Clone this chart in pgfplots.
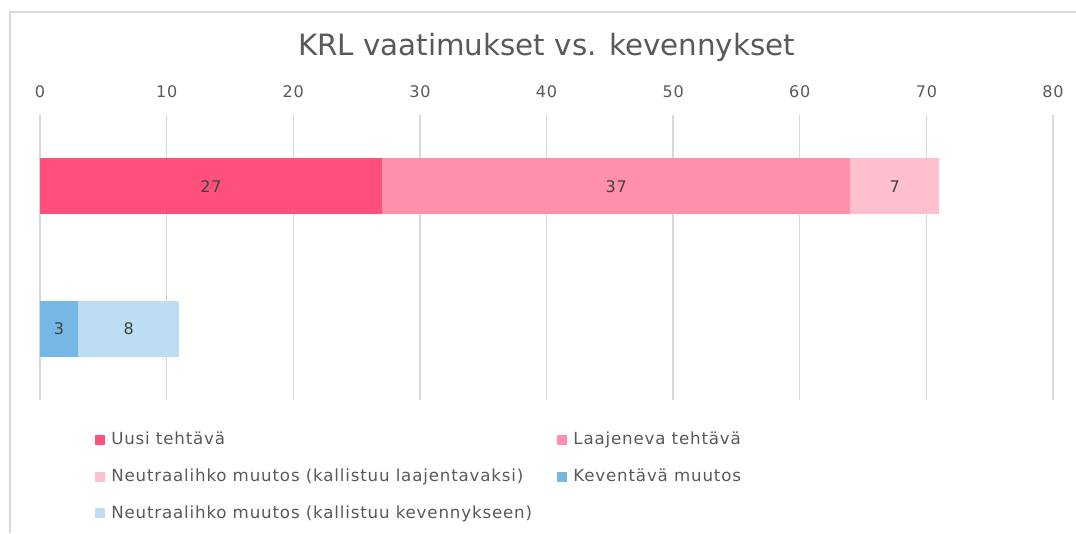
\documentclass[border=0pt]{standalone}
\usepackage{pgfplots}
\pgfplotsset{compat=1.18}
\usepackage{fontspec}
\setmainfont{DejaVu Sans}[LetterSpace=5]
\newfontfamily\titlefont{DejaVu Sans}
\definecolor{c1}{HTML}{FF4F7B}
\definecolor{c2}{HTML}{FF8FAB}
\definecolor{c3}{HTML}{FFBFCF}
\definecolor{c4}{HTML}{75B8E6}
\definecolor{c5}{HTML}{BDDDF3}
\definecolor{txt}{HTML}{595959}
\definecolor{lbl}{HTML}{404040}
\definecolor{gridc}{HTML}{D9D9D9}
\begin{document}
\begin{tikzpicture}
\path[use as bounding box] (-30pt,-99.75pt) rectangle (777pt,300pt);
\draw[gridc, line width=1pt] (-22.5pt,-99.75pt) -- (-22.5pt,291pt) -- (777pt,291pt);
\begin{axis}[
  at={(0,0)}, anchor=south west,
  scale only axis, width=759.75pt, height=213.75pt,
  xbar stacked, bar width=42pt,
  xmin=0, xmax=80, ymin=-0.5, ymax=1.5,
  xtick={0,10,...,80}, ytick=\empty,
  xticklabel pos=upper,
  axis line style={draw=none},
  major tick length=0pt,
  xmajorgrids, grid style={gridc, line width=1.1pt},
  ticklabel style={font=\fontsize{12}{14}\selectfont, text=txt},
  xticklabel style={yshift=9.5pt},
  /pgf/number format/assume math mode=true,
  title={KRL vaatimukset vs. kevennykset},
  title style={at={(0.5,1)}, anchor=base, yshift=38.5pt, font=\titlefont\fontsize{22}{26}\selectfont, text=txt},
  point meta=explicit,
  nodes near coords={\pgfmathfloatifflags{\pgfplotspointmeta}{0}{}{\pgfmathprintnumber{\pgfplotspointmeta}}},
  every node near coord/.append style={anchor=center, font=\fontsize{12}{14}\selectfont, text=lbl},
  legend columns=2,
  legend cell align=left,
  legend image code/.code={\fill[#1] (0pt,-4pt) rectangle (7.5pt,3.5pt);},
  legend style={at={(axis description cs:0,0)}, anchor=north west, xshift=41.25pt, yshift=-22pt,
    draw=none, fill=none, inner sep=0pt, row sep=12.5pt,
    font=\fontsize{12.5}{15}\selectfont, text=txt,
    /tikz/every odd column/.append style={column sep=2.5pt},
    /tikz/every even column/.append style={column sep=17pt}},
]
\addplot[fill=c1, draw=none] coordinates {(27,1) [27] (0,0) [0]};
\addplot[fill=c2, draw=none] coordinates {(37,1) [37] (0,0) [0]};
\addplot[fill=c3, draw=none] coordinates {(7,1) [7] (0,0) [0]};
\addplot[fill=c4, draw=none] coordinates {(0,1) [0] (3,0) [3]};
\addplot[fill=c5, draw=none] coordinates {(0,1) [0] (8,0) [8]};
\legend{Uusi tehtävä, Laajeneva tehtävä, Neutraalihko muutos (kallistuu laajentavaksi), Keventävä muutos, Neutraalihko muutos (kallistuu kevennykseen)}
\end{axis}
\end{tikzpicture}
\end{document}
